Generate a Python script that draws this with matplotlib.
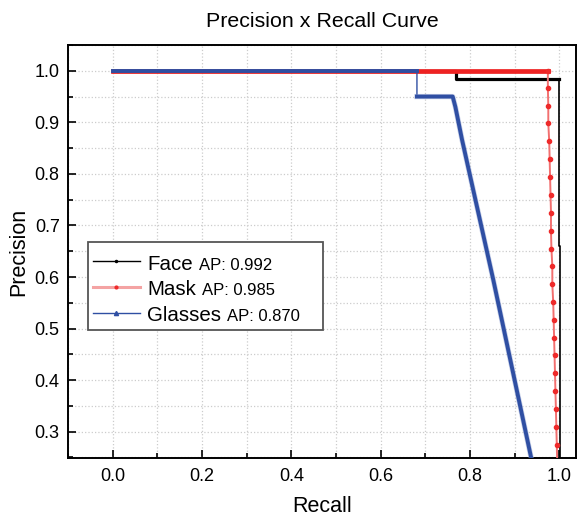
import matplotlib
matplotlib.use('Agg')
import matplotlib.pyplot as plt
from matplotlib.lines import Line2D
from matplotlib.ticker import MultipleLocator
from matplotlib.offsetbox import AnchoredOffsetbox, HPacker, VPacker, TextArea, DrawingArea

plt.rcParams['font.family'] = ['Liberation Sans', 'DejaVu Sans']

# Face: precision x recall
face_recall = [0.0, 0.769, 0.769, 0.999, 0.999, 1.001, 1.001]
face_prec = [1.0, 1.0, 0.985, 0.985, 0.66, 0.66, 0.24]

# Mask
mask_recall = [0.0, 0.974, 0.974, 0.975, 0.975, 0.977, 0.978, 0.979, 0.980, 0.981,
               0.981, 0.982, 0.984, 0.984, 0.986, 0.987, 0.988, 0.989, 0.990,
               0.991, 0.992, 0.993, 0.994, 0.995]
mask_prec = [1.0, 1.0, 0.967, 0.932, 0.898, 0.864, 0.829, 0.794, 0.760, 0.725,
             0.690, 0.655, 0.621, 0.586, 0.551, 0.517, 0.482, 0.448, 0.413,
             0.378, 0.344, 0.309, 0.274, 0.240]

# Glasses
glasses_recall = [0.0, 0.681, 0.681, 0.761, 0.767, 0.782, 0.852, 0.937, 0.941]
glasses_prec = [1.0, 1.0, 0.95, 0.95, 0.93, 0.866, 0.594, 0.248, 0.232]

names = ['Face', 'Mask', 'Glasses']
aps = ['AP: 0.992', 'AP: 0.985', 'AP: 0.870']

fig = plt.figure(figsize=(5.82, 5.22), dpi=100)
ax = fig.add_axes([68 / 582, 64 / 522, 508 / 582, 413 / 522])

# Face
ax.plot(face_recall, face_prec, color='black', lw=1.2, zorder=2)
ax.plot(face_recall[:4], face_prec[:4], color='black', lw=2.3, zorder=2)

# Mask
ax.plot(mask_recall[:2], mask_prec[:2], color='#ee2222', lw=3.4, zorder=3)
ax.plot(mask_recall[1:], mask_prec[1:], color='#f27070', lw=1.4, zorder=3,
        marker='o', markersize=3.0, markerfacecolor='#ee2a2a', markeredgecolor='#ee2a2a')

# Glasses
ax.plot(glasses_recall, glasses_prec, color='#2f4fa3', lw=1.0, zorder=4)
ax.plot(glasses_recall[:2], glasses_prec[:2], color='#2f4fa3', lw=2.8, zorder=4)
ax.plot(glasses_recall[2:], glasses_prec[2:], color='#8fa0d0', lw=3.8, zorder=4, alpha=0.5)
ax.plot(glasses_recall[2:], glasses_prec[2:], color='#2f4fa3', lw=2.8, zorder=4)

ax.set_xlim(-0.1, 1.037)
ax.set_ylim(0.249, 1.05)
ax.xaxis.set_major_locator(MultipleLocator(0.2))
ax.xaxis.set_minor_locator(MultipleLocator(0.1))
ax.yaxis.set_major_locator(MultipleLocator(0.1))
ax.yaxis.set_minor_locator(MultipleLocator(0.05))
ax.tick_params(which='major', direction='in', length=6, width=1.2, labelsize=13, pad=7)
ax.tick_params(which='minor', direction='in', length=3.5, width=1.2)
ax.tick_params(axis='y', which='major', pad=6)
ax.grid(which='both', linestyle=':', color='#cccccc', linewidth=0.9)
ax.set_axisbelow(True)
for s in ax.spines.values():
    s.set_linewidth(1.4)

ax.set_title('Precision x Recall Curve', fontsize=15.4, pad=13)
ax.set_xlabel('Recall', fontsize=15.5, labelpad=8)
ax.set_ylabel('Precision', fontsize=15.5, labelpad=4)

# legend built from offset boxes: big name + smaller AP text
handle_styles = [
    dict(color='black', lw=1, marker='.', markersize=3),
    dict(color='#f4a3a3', lw=2.2, marker='.', markersize=4,
         markerfacecolor='#ee2a2a', markeredgecolor='#ee2a2a'),
    dict(color='#2f4fa3', lw=1, marker='^', markersize=3),
]
rows = []
for style, name, ap in zip(handle_styles, names, aps):
    da = DrawingArea(34, 8, 0, 0)
    da.add_artist(Line2D([0, 34], [5.8, 5.8], color=style['color'], lw=style['lw']))
    mk = dict(style)
    mk.pop('lw')
    da.add_artist(Line2D([17], [5.8], linestyle='none', **mk))
    label = HPacker(children=[TextArea(name, textprops=dict(size=14.8)),
                              TextArea(ap, textprops=dict(size=12))],
                    align='baseline', pad=0, sep=4.3)
    rows.append(HPacker(children=[da, label, DrawingArea(8, 1, 0, 0)],
                        align='baseline', pad=0, sep=5))
box = VPacker(children=[DrawingArea(1, 0.5, 0, 0)] + rows, align='left', pad=0, sep=5.0)
legend_box = AnchoredOffsetbox(loc='upper left', child=box, pad=0.35, borderpad=0,
                               frameon=True, bbox_to_anchor=(88 / 582, 1 - 242 / 522),
                               bbox_transform=fig.transFigure)
legend_box.patch.set_edgecolor('#555555')
legend_box.patch.set_linewidth(1.3)
legend_box.set_zorder(6)
ax.add_artist(legend_box)

fig.savefig('out.png', dpi=100)
